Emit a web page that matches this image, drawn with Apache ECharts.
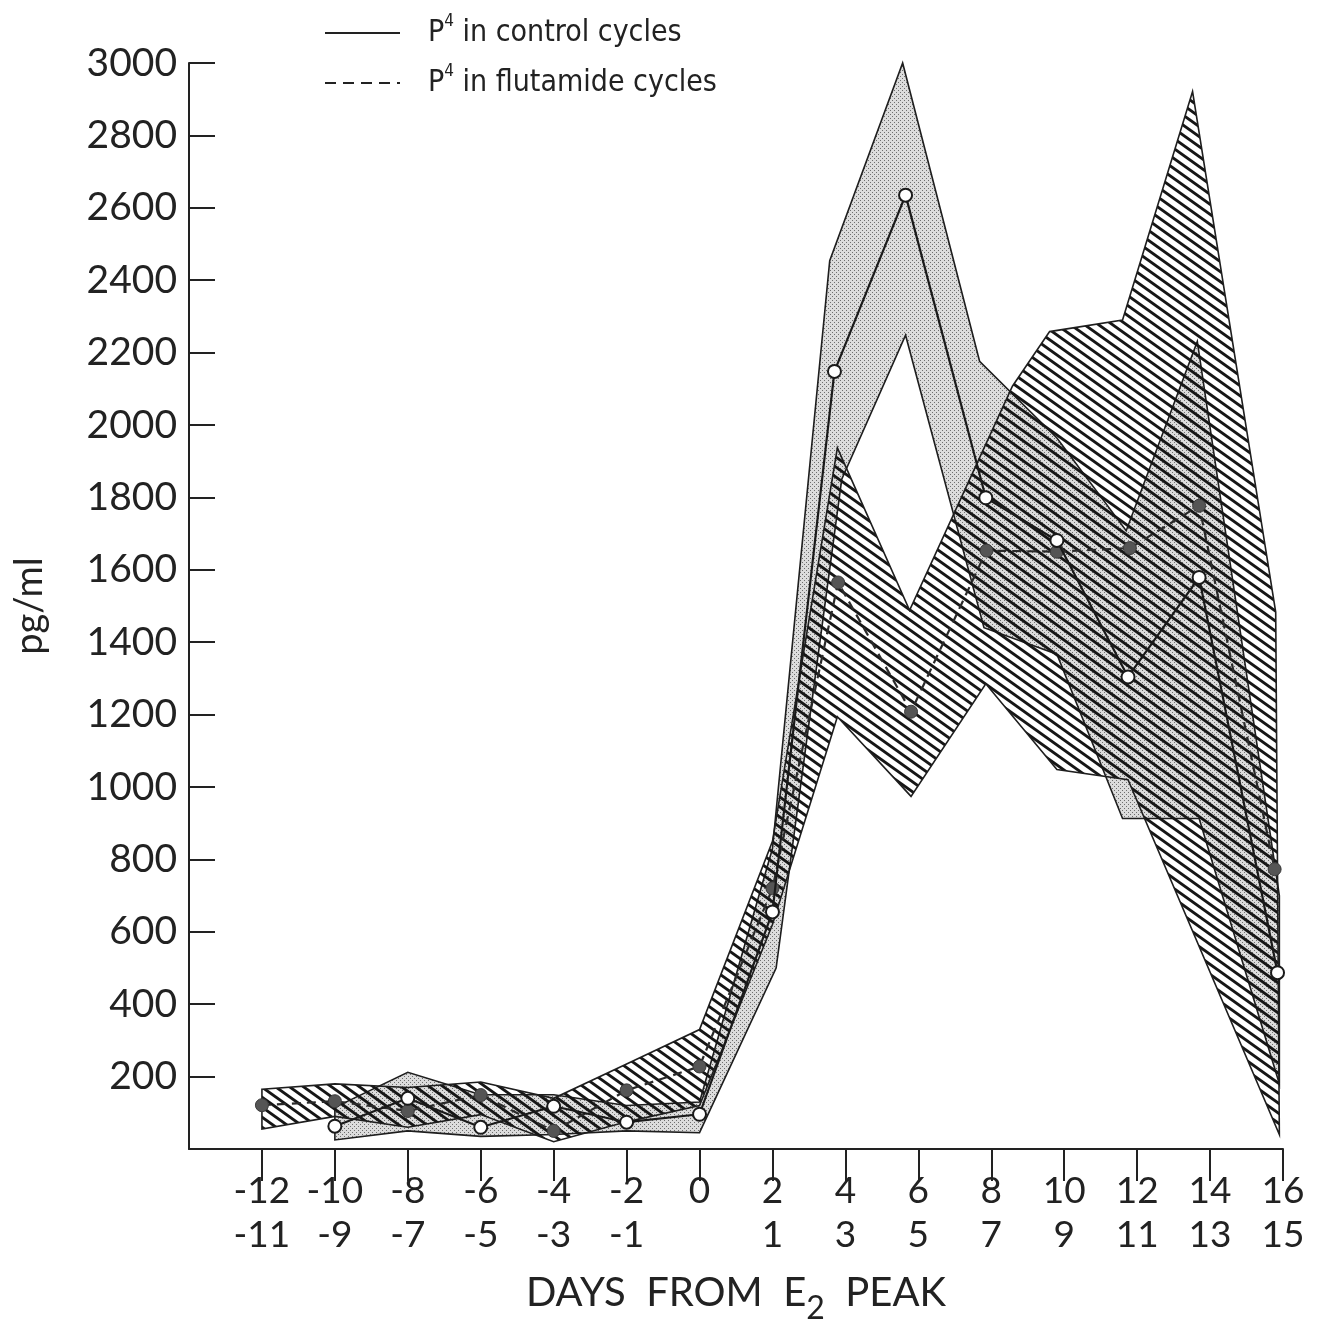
<!DOCTYPE html>
<html>
<head>
<meta charset="utf-8">
<script src="https://cdn.jsdelivr.net/npm/echarts@6/dist/echarts.min.js"></script>
<style>
html,body{margin:0;padding:0;background:#fff;}
#chart{width:1318px;height:1330px;}
</style>
</head>
<body>
<div id="chart"></div>
<script>
// ---- Data ----
const xTickValues = [-12,-10,-8,-6,-4,-2,0,2,4,6,8,10,12,14,16];
const xTickTop    = ['-12','-10','-8','-6','-4','-2','0','2','4','6','8','10','12','14','16'];
const xTickBottom = ['-11','-9','-7','-5','-3','-1','','1','3','5','7','9','11','13','15'];

// Control cycles: mean (open circles, solid line)
const ctrlX    = [-10,-8,-6,-4,-2,0,2,3.7,5.65,7.85,9.8,11.75,13.7,15.85];
const ctrlMean = [63,140,60,118,74,96,655,2148,2635,1799,1681,1304,1579,487];
// Control band (stippled)
const ctrlUpperX = [-10,-8,-6,-4,-2,0,2,3.57,5.57,7.68,9.8,11.7,13.65,15.9];
const ctrlUpper  = [115,212,150,150,120,130,830,2454,3000,2176,1964,1708,2231,700];
const ctrlLowerX = [-10,-8,-6,-4,-2,0,2.1,3.9,5.65,7.8,9.8,11.6,13.7,15.9];
const ctrlLower  = [25,50,35,40,50,45,500,1850,2248,1440,1367,913,913,180];

// Flutamide cycles: mean (filled circles, dashed line)
const flutX    = [-12,-10,-8,-6,-4,-2,0,2,3.8,5.8,7.87,9.8,11.8,13.7,15.77];
const flutMean = [121,132,105,149,50,162,228,720,1565,1208,1653,1650,1660,1777,773];
// Flutamide band (hatched)
const flutUpperX = [-12,-10,-8,-6,-4,-2,0,2,3.78,5.76,8.58,9.6,11.6,13.52,15.8];
const flutUpper  = [165,180,170,185,140,235,330,850,1937,1488,2107,2258,2290,2921,1483];
const flutLowerX = [-12,-10,-8,-6,-4,-2,0,2,3.78,5.8,7.85,9.8,11.75,15.9];
const flutLower  = [55,90,60,95,20,75,120,620,1194,974,1285,1048,1020,40];

// ---- Patterns ----
function makeStipple(){
  const c = document.createElement('canvas'); c.width = 4; c.height = 4;
  const g = c.getContext('2d');
  g.fillStyle = '#dcdcdc'; g.fillRect(0,0,4,4);
  g.fillStyle = '#6e6e6e'; g.fillRect(0,0,1,1); g.fillRect(2,2,1,1);
  return c;
}
function makeHatch(){
  const W = 14, H = 10;
  const c = document.createElement('canvas'); c.width = W; c.height = H;
  const g = c.getContext('2d');
  g.strokeStyle = '#161616'; g.lineWidth = 2.9;
  for (const off of [-H, 0, H]) {
    g.beginPath();
    g.moveTo(-2, off + (-2) * H / W);
    g.lineTo(W + 2, off + (W + 2) * H / W);
    g.stroke();
  }
  return c;
}
const stipple = {image: makeStipple(), repeat: 'repeat'};
const hatch = {image: makeHatch(), repeat: 'repeat'};

function bandRenderer(ux, uy, lx, ly, fill){
  return function(params, api){
    if (params.dataIndex !== 0) return;
    const pts = [];
    for (let i = 0; i < ux.length; i++) pts.push(api.coord([ux[i], uy[i]]));
    for (let i = lx.length - 1; i >= 0; i--) pts.push(api.coord([lx[i], ly[i]]));
    return {type:'polygon', shape:{points: pts},
            style:{fill: fill, stroke:'#1e1e1e', lineWidth:1.6, lineJoin:'miter'}};
  };
}

const FONT = 'Lato, "Noto Sans", sans-serif';
const NARROW = '"Liberation Sans Narrow", "DejaVu Sans Condensed", "Roboto Condensed", sans-serif';

const chart = echarts.init(document.getElementById('chart'), null, {renderer:'canvas'});
chart.setOption({
  animation: false,
  backgroundColor: '#fff',
  grid: {left: 189, right: 35, top: 63, bottom: 176, containLabel: false},
  xAxis: {
    type: 'value', min: -14, max: 16, interval: 2,
    axisLine: {show: true, onZero: false, lineStyle: {color: '#222', width: 2}},
    axisTick: {show: true, customValues: xTickValues, length: 32, inside: false, lineStyle: {color: '#222', width: 2}},
    splitLine: {show: false},
    axisLabel: {
      customValues: xTickValues, margin: 20, color: '#222', fontFamily: FONT, fontSize: 37, lineHeight: 44,
      formatter: function(v){
        const i = xTickValues.indexOf(Math.round(v));
        if (i < 0) return '';
        return xTickTop[i] + '\n' + (xTickBottom[i] || ' ');
      }
    },
    name: '{n|DAYS  FROM  E}{sub|2}{n|  PEAK}',
    nameLocation: 'middle', nameGap: 124,
    nameTextStyle: {
      color: '#222', fontFamily: FONT,
      rich: {
        n: {fontSize: 40, fontFamily: FONT, color: '#222', lineHeight: 52, verticalAlign: 'top'},
        sub: {fontSize: 32, fontFamily: FONT, color: '#222', lineHeight: 52, verticalAlign: 'bottom'}
      }
    }
  },
  yAxis: {
    type: 'value', min: 0, max: 3000, interval: 200,
    axisLine: {show: true, onZero: false, lineStyle: {color: '#222', width: 2}},
    axisTick: {show: true, inside: true, length: 26, lineStyle: {color: '#222', width: 2}},
    splitLine: {show: false},
    axisLabel: {
      margin: 12, color: '#222', fontFamily: FONT, fontSize: 39,
      formatter: function(v){ return v === 0 ? '' : String(v); }
    },
    name: 'pg/ml', nameLocation: 'middle', nameGap: 140, nameRotate: 90,
    nameTextStyle: {color: '#222', fontFamily: FONT, fontSize: 38}
  },
  graphic: [
    {type:'line', shape:{x1:325, y1:33, x2:400, y2:33}, style:{stroke:'#222', lineWidth:2}},
    {type:'line', shape:{x1:325, y1:83, x2:400, y2:83}, style:{stroke:'#222', lineWidth:2, lineDash:[11,7]}},
    {type:'text', x:428, y:33, style:{
      text:'P{sup|4} in control cycles', fill:'#222', font:'30px ' + NARROW,
      verticalAlign:'middle', rich:{sup:{fontSize:17, fontFamily:NARROW, verticalAlign:'top', lineHeight:40}}
    }},
    {type:'text', x:428, y:83, style:{
      text:'P{sup|4} in flutamide cycles', fill:'#222', font:'30px ' + NARROW,
      verticalAlign:'middle', rich:{sup:{fontSize:17, fontFamily:NARROW, verticalAlign:'top', lineHeight:40}}
    }}
  ],
  series: [
    {type:'custom', name:'control band', silent:true, z:1,
     renderItem: bandRenderer(ctrlUpperX, ctrlUpper, ctrlLowerX, ctrlLower, stipple), data:[[0,0]]},
    {type:'custom', name:'flutamide band', silent:true, z:2,
     renderItem: bandRenderer(flutUpperX, flutUpper, flutLowerX, flutLower, hatch), data:[[0,0]]},
    {type:'line', name:'P4 in flutamide cycles', z:3,
     data: flutX.map((x,i)=>[x, flutMean[i]]),
     symbol:'circle', symbolSize:13,
     lineStyle:{color:'#2a2a2a', width:2.2, type:[9,6]},
     itemStyle:{color:'#555', borderColor:'#3a3a3a', borderWidth:1}},
    {type:'line', name:'P4 in control cycles', z:4,
     data: ctrlX.map((x,i)=>[x, ctrlMean[i]]),
     symbol:'circle', symbolSize:13,
     lineStyle:{color:'#1a1a1a', width:2.2},
     itemStyle:{color:'#fff', borderColor:'#1a1a1a', borderWidth:2}}
  ]
});
</script>
</body>
</html>
